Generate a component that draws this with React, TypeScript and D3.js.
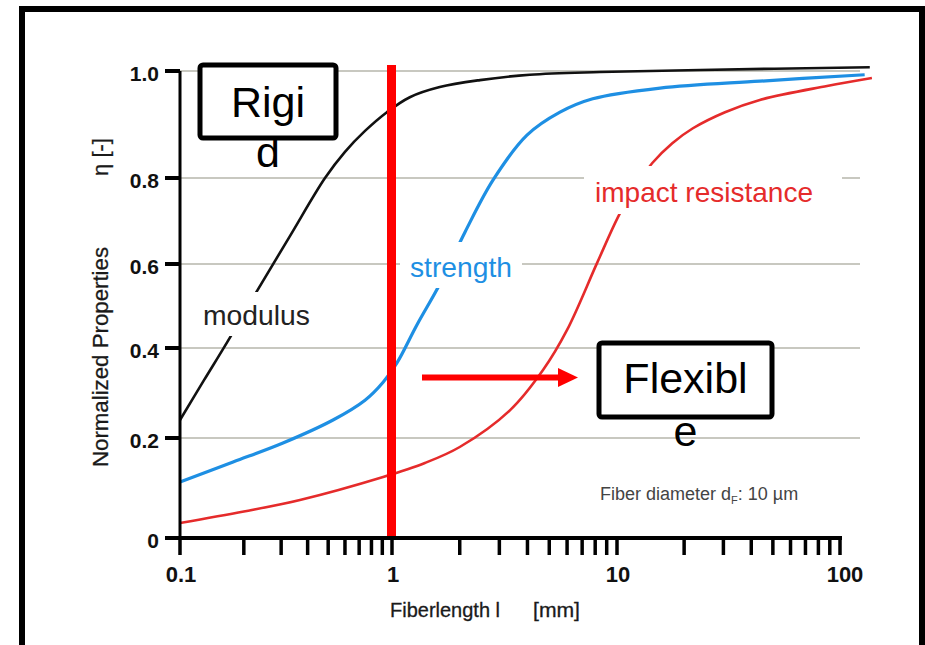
import * as d3 from "d3";

// fiber length (mm) and normalized property values
const modulusLen = [0.1, 0.13, 0.167, 0.231, 0.33, 0.483, 0.6, 0.746, 0.946, 1.2, 1.63, 2.46, 4.1, 8.4, 23.6, 136];
const modulusVal = [0.24, 0.329, 0.414, 0.536, 0.665, 0.8, 0.849, 0.888, 0.923, 0.951, 0.97, 0.983, 0.993, 0.998, 1.002, 1.007];

const strengthLen = [0.1, 0.178, 0.306, 0.527, 0.746, 0.908, 1.052, 1.29, 1.63, 2.11, 2.81, 3.98, 5.58, 7.8, 15.6, 43.7, 129];
const strengthVal = [0.112, 0.152, 0.19, 0.24, 0.284, 0.324, 0.367, 0.455, 0.552, 0.674, 0.795, 0.88, 0.923, 0.948, 0.968, 0.981, 0.993];

const impactLen = [0.1, 0.2, 0.368, 0.908, 1.4, 2.0, 3.35, 4.69, 6.0, 8.15, 10.1, 12.0, 14.4, 17.7, 21.9, 30.5, 43.7, 87.5, 139];
const impactVal = [0.03, 0.053, 0.076, 0.122, 0.15, 0.182, 0.262, 0.351, 0.443, 0.602, 0.709, 0.779, 0.828, 0.865, 0.893, 0.923, 0.946, 0.972, 0.987];

const yTicks = [0, 0.2, 0.4, 0.6, 0.8, 1.0];
const yTickLabels = ["0", "0.2", "0.4", "0.6", "0.8", "1.0"];
const xMajor = [0.1, 1, 10, 100];
const xMajorLabels = ["0.1", "1", "10", "100"];

const FONT = "'Liberation Sans', Arial, Helvetica, sans-serif";
const BLUE = "#1e8fe3";
const RED = "#e52b2b";

export default function App() {
  const width = 925;
  const height = 645;

  // the scanned axes are not quite even, so both scales are piecewise
  const x = d3.scaleLog().domain(xMajor).range([180, 392, 617, 840]);
  const y = d3.scaleLinear().domain(yTicks).range([538, 438, 348, 264, 178, 71]);

  const line = d3
    .line<[number, number]>()
    .x(d => x(d[0]))
    .y(d => y(d[1]))
    .curve(d3.curveCatmullRom.alpha(0.5));

  const series = [
    { name: "modulus", pts: d3.zip(modulusLen, modulusVal), color: "#111", w: 2.6 },
    { name: "strength", pts: d3.zip(strengthLen, strengthVal), color: BLUE, w: 3.2 },
    { name: "impact", pts: d3.zip(impactLen, impactVal), color: RED, w: 2.6 }
  ];

  const x0 = x(0.1);
  const x1 = x(100);
  const yBase = y(0);
  const gridEnd = 860;

  return (
    <svg
      width={width}
      height={height}
      style={{ position: "absolute", left: 0, top: 0, display: "block", background: "#fff" }}
      fontFamily={FONT}
    >
      <rect x={22} y={9} width={900} height={680} fill="#fff" stroke="#000" strokeWidth={6} />

      {/* grid */}
      <g stroke="#c8c8c0" strokeWidth={2}>
        {yTicks.slice(1).map(t => (
          <line key={t} x1={x0} x2={gridEnd} y1={y(t)} y2={y(t)} />
        ))}
      </g>

      {/* curves */}
      {series.map(s => (
        <path key={s.name} d={line(s.pts as [number, number][]) || ""} fill="none" stroke={s.color} strokeWidth={s.w} />
      ))}

      {/* curve labels, with white backing that breaks lines behind them */}
      <g fill="#fff">
        <rect x={200} y={292} width={118} height={44} />
        <rect x={400} y={242} width={122} height={46} />
        <rect x={584} y={166} width={258} height={48} />
      </g>
      <g fontSize={28}>
        <text x={203} y={325} fill="#222" textLength={107} lengthAdjust="spacingAndGlyphs">modulus</text>
        <text x={410} y={277} fill={BLUE} textLength={102} lengthAdjust="spacingAndGlyphs">strength</text>
        <text x={595} y={202} fill={RED} textLength={218} lengthAdjust="spacingAndGlyphs">impact resistance</text>
      </g>

      {/* y axis */}
      <line x1={x0} x2={x0} y1={y(1)} y2={yBase} stroke="#000" strokeWidth={3} />
      {yTicks.map((t, i) => (
        <g key={t}>
          <line x1={165} x2={x0} y1={y(t)} y2={y(t)} stroke="#000" strokeWidth={4} />
          <text x={159} y={y(t) + 3} dy="0.35em" textAnchor="end" fontSize={21} fontWeight="bold" fill="#111">
            {yTickLabels[i]}
          </text>
        </g>
      ))}

      {/* x axis */}
      <line x1={x0 - 1} x2={x1 + 2} y1={yBase} y2={yBase} stroke="#000" strokeWidth={4} />
      {x.ticks().map((t, i) => (
        <line key={i} x1={x(t)} x2={x(t)} y1={yBase} y2={yBase + 17} stroke="#000" strokeWidth={3.5} />
      ))}
      {xMajor.map((t, i) => (
        <text key={t} x={x(t) + (t === 100 ? 5 : 1)} y={582} textAnchor="middle" fontSize={22} fontWeight="bold" fill="#111">
          {xMajorLabels[i]}
        </text>
      ))}

      {/* axis titles */}
      <g fill="#1a1a1a" stroke="#1a1a1a" strokeWidth={0.3}>
        <text x={390} y={617} fontSize={20} textLength={110} lengthAdjust="spacingAndGlyphs">Fiberlength l</text>
        <text x={533} y={617} fontSize={20} textLength={47} lengthAdjust="spacingAndGlyphs">[mm]</text>
        <text
          transform="translate(108,357) rotate(-90)"
          textAnchor="middle"
          fontSize={22}
          textLength={220}
          lengthAdjust="spacingAndGlyphs"
        >
          Normalized Properties
        </text>
        <text transform="translate(108,157) rotate(-90)" textAnchor="middle" fontSize={22}>
          η [-]
        </text>
      </g>

      {/* footnote */}
      <text x={600} y={500} fontSize={18} fill="#444">
        Fiber diameter d<tspan fontSize={11} dy={4}>F</tspan>
        <tspan dy={-4}>: 10 µm</tspan>
      </text>

      {/* red marker at 1 mm */}
      <line x1={x(1) - 0.5} x2={x(1) - 0.5} y1={65} y2={yBase - 2} stroke="#ff0000" strokeWidth={9} />

      {/* arrow */}
      <line x1={422} x2={562} y1={377.5} y2={377.5} stroke="#ff0000" strokeWidth={6} />
      <path d="M558,368 L578,377.5 L558,387 Z" fill="#ff0000" />

      {/* boxes */}
      <rect x={200} y={65} width={136} height={73} rx={3} fill="#fff" stroke="#000" strokeWidth={5} />
      <text x={268} y={117} textAnchor="middle" fontSize={43} fill="#000">Rigi</text>
      <text x={268} y={167} textAnchor="middle" fontSize={43} fill="#000">d</text>

      <rect x={599} y={343} width={173} height={74} rx={3} fill="#fff" stroke="#000" strokeWidth={5} />
      <text x={685.5} y={393} textAnchor="middle" fontSize={43} fill="#000">Flexibl</text>
      <text x={685.5} y={446} textAnchor="middle" fontSize={43} fill="#000">e</text>
    </svg>
  );
}
